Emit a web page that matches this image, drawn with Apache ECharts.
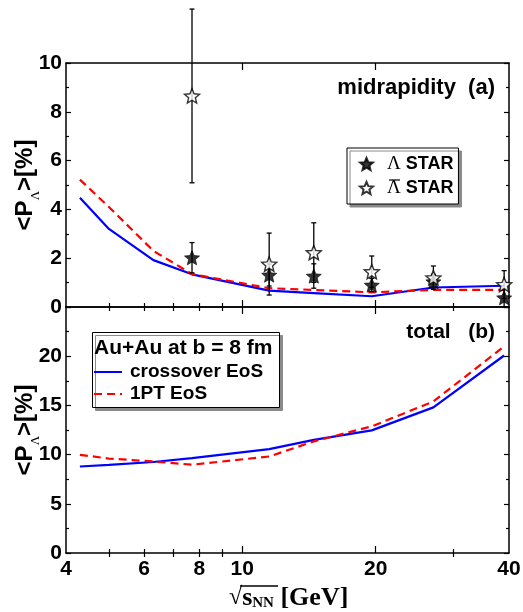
<!DOCTYPE html>
<html>
<head>
<meta charset="utf-8">
<script src="https://cdn.jsdelivr.net/npm/echarts@6/dist/echarts.min.js"></script>
<style>
  html, body { margin: 0; padding: 0; background: #fff; }
  #chart { width: 523px; height: 612px; }
</style>
</head>
<body>
<div id="chart"></div>
<script>
// Collision energies (GeV) of the hydro calculations
const modelEnergies = [4.3, 5, 6.3, 7.7, 11.5, 14.5, 19.6, 27, 39];
// Mid-rapidity polarization (%)
const midCrossover = [4.48, 3.2, 1.92, 1.34, 0.67, 0.57, 0.44, 0.80, 0.87];
const mid1PT = [5.22, 4.1, 2.3, 1.35, 0.77, 0.70, 0.60, 0.70, 0.70];
// Total polarization (%)
const totalCrossover = [8.79, 8.95, 9.25, 9.65, 10.56, 11.5, 12.46, 14.8, 20.07];
const total1PT = [9.98, 9.6, 9.3, 8.97, 9.81, 11.34, 12.87, 15.4, 21.0];

// STAR measurements
const starEnergies = [7.7, 11.5, 14.5, 19.6, 27, 39];
const lambdaP = [2.02, 1.31, 1.27, 0.90, 1.04, 0.38];
const lambdaErr = [0.62, 0.45, 0.50, 0.27, 0.30, 0.38];
const antiLambdaP = [8.65, 1.76, 2.23, 1.45, 1.20, 0.92];
const antiLambdaErr = [3.56, 1.27, 1.22, 0.64, 0.48, 0.57];

// Axis ticks
const xTickLabels = [4, 6, 8, 10, 20, 40];
const xMajorTicks = [10, 20];
const xMinorTicks = [5, 6, 7, 8, 9, 30];

const SANS = '"Liberation Sans", Arial, "DejaVu Sans", sans-serif';
const SERIF = '"Liberation Serif", "Times New Roman", "DejaVu Serif", serif';

// five-pointed star glyph used for the data markers
function starSymbol(inner) {
  let d = '';
  for (let i = 0; i < 10; i++) {
    const a = (-90 + i * 36) * Math.PI / 180;
    const r = i % 2 ? inner : 1;
    d += (i ? 'L' : 'M') + (r * Math.cos(a)).toFixed(4) + ' ' + (r * Math.sin(a)).toFixed(4) + ' ';
  }
  return 'path://' + d + 'Z';
}
const STAR = starSymbol(0.45);

const frame = { show: true, onZero: false, lineStyle: { color: '#000', width: 1.5 } };

function xAxesFor(grid) {
  const base = { gridIndex: grid, type: 'log', logBase: 10, min: 4, max: 40,
    splitLine: { show: false }, minorTick: { show: false } };
  const out = [];
  ['bottom', 'top'].forEach(pos => {
    out.push(Object.assign({}, base, {
      position: pos,
      axisLine: frame,
      axisTick: { show: true, inside: true, length: 7, customValues: xMajorTicks,
                  lineStyle: { color: '#000', width: 1.2 } },
      axisLabel: (grid === 1 && pos === 'bottom') ? {
        show: true, customValues: xTickLabels, margin: 6,
        formatter: v => String(Math.round(v)),
        color: '#000', fontFamily: SANS, fontWeight: 'bold', fontSize: 21
      } : { show: false }
    }));
    out.push(Object.assign({}, base, {
      position: pos,
      axisLine: { show: false },
      axisTick: { show: true, inside: true, length: 4, customValues: xMinorTicks,
                  lineStyle: { color: '#000', width: 1.2 } },
      axisLabel: { show: false }
    }));
  });
  return out;
}

const yName = '{b|<P}{s|\u039B}{b|>[%]}';
const yNameStyle = {
  rich: {
    b: { fontFamily: SANS, fontWeight: 'bold', fontSize: 24, color: '#000', lineHeight: 34, verticalAlign: 'middle' },
    s: { fontFamily: SERIF, fontSize: 13, color: '#000', lineHeight: 12, verticalAlign: 'bottom' }
  }
};

function yAxesFor(grid, max, interval) {
  const common = { gridIndex: grid, type: 'value', min: 0, max: max, interval: interval,
    axisLine: frame, splitLine: { show: false },
    axisTick: { show: true, inside: true, length: 5, lineStyle: { color: '#000', width: 1.2 } },
    minorTick: { show: true, splitNumber: 2, length: 3, lineStyle: { color: '#000', width: 1.2 } } };
  return [
    Object.assign({}, common, {
      position: 'left',
      name: yName, nameLocation: 'middle', nameGap: 24, nameMoveOverlap: false,
      nameTextStyle: yNameStyle,
      axisLabel: { show: true, margin: 4, color: '#000', fontFamily: SANS, fontWeight: 'bold', fontSize: 21,
                   formatter: v => (v >= max ? (grid === 0 ? String(v) : '') : String(v)) }
    }),
    Object.assign({}, common, { position: 'right', axisLabel: { show: false } })
  ];
}

function pairs(xs, ys) { return xs.map((x, i) => [x, ys[i]]); }

function errorBars(values, errs) {
  return {
    type: 'custom', xAxisIndex: 0, yAxisIndex: 0, clip: false, z: 3, silent: true,
    data: starEnergies.map((e, i) => [e, values[i] - errs[i], values[i] + errs[i]]),
    renderItem(params, api) {
      const lo = api.coord([api.value(0), api.value(1)]);
      const hi = api.coord([api.value(0), api.value(2)]);
      const w = 2.5, st = { stroke: '#000', lineWidth: 1.3 };
      return { type: 'group', children: [
        { type: 'line', shape: { x1: lo[0], y1: lo[1], x2: hi[0], y2: hi[1] }, style: st },
        { type: 'line', shape: { x1: lo[0] - w, y1: lo[1], x2: lo[0] + w, y2: lo[1] }, style: st },
        { type: 'line', shape: { x1: hi[0] - w, y1: hi[1], x2: hi[0] + w, y2: hi[1] }, style: st }
      ] };
    }
  };
}

const blueStyle = { color: '#0000ff', width: 2.2, type: 'solid' };
const redStyle = { color: '#ff0000', width: 2.2, type: [8, 5] };

function modelLine(name, xi, yi, ys, style) {
  return { name: name, type: 'line', xAxisIndex: xi, yAxisIndex: yi, data: pairs(modelEnergies, ys),
    symbol: 'circle', showSymbol: false, lineStyle: style, itemStyle: { color: style.color },
    z: 2, silent: true };
}

const chart = echarts.init(document.getElementById('chart'), null, { renderer: 'canvas' });

chart.setOption({
  animation: false,
  backgroundColor: '#fff',
  grid: [
    { left: 66, right: 14, top: 63, height: 244, containLabel: false, outerBoundsMode: 'none' },
    { left: 66, right: 14, top: 307, height: 246, containLabel: false, outerBoundsMode: 'none' }
  ],
  xAxis: xAxesFor(0).concat(xAxesFor(1)),
  yAxis: yAxesFor(0, 10, 2).concat(yAxesFor(1, 25, 5)),
  legend: [
    {
      data: ['\u039B STAR', '\u039B\u0304 STAR'],
      orient: 'vertical', left: 347, top: 148, z: 10,
      padding: [6, 5, 6, 12], itemGap: 4, itemWidth: 13, itemHeight: 13,
      backgroundColor: '#fff', borderColor: '#000', borderWidth: 1, borderRadius: 0,
      shadowColor: '#8a8a8a', shadowOffsetX: 3, shadowOffsetY: 3, shadowBlur: 0,
      selectedMode: false,
      formatter: name => '{l|\u039B}{b| STAR}',
      textStyle: {
        padding: [0, 0, 0, 9], lineHeight: 20,
        rich: {
          l: { fontFamily: SERIF, fontSize: 19, color: '#000', lineHeight: 20 },
          b: { fontFamily: SANS, fontWeight: 'bold', fontSize: 18, color: '#000', lineHeight: 20 }
        }
      }
    },
    {
      data: ['crossover EoS', '1PT EoS'],
      orient: 'vertical', left: 92, top: 362, z: 10,
      padding: [0, 0, 0, 1], itemGap: 2, itemWidth: 28, itemHeight: 14,
      itemStyle: { opacity: 0 },
      selectedMode: false,
      textStyle: { fontFamily: SANS, fontWeight: 'bold', fontSize: 19, color: '#000',
                   lineHeight: 20, padding: [0, 0, 0, 3] }
    }
  ],
  graphic: [
    { type: 'text', right: 28, top: 77, z: 10,
      style: { text: 'midrapidity  (a)', font: 'bold 22px ' + SANS, fill: '#000' } },
    { type: 'text', right: 28, top: 322, z: 10,
      style: { text: 'total   (b)', font: 'bold 21px ' + SANS, fill: '#000' } },
    // bar over the anti-lambda symbol in the STAR legend
    { type: 'line', z: 12,
      shape: { x1: 389, y1: 180, x2: 400, y2: 180 },
      style: { stroke: '#000', lineWidth: 1.2 } },
    { type: 'rect', left: 92, top: 332, z: 1,
      shape: { width: 187, height: 75 },
      style: { fill: '#fff', stroke: '#000', lineWidth: 1,
               shadowColor: '#8a8a8a', shadowOffsetX: 3, shadowOffsetY: 3, shadowBlur: 0 } },
    { type: 'text', left: 94, top: 338, z: 10,
      style: { text: 'Au+Au at b = 8 fm', font: 'bold 21px ' + SANS, fill: '#000' } },
    { type: 'text', z: 10,
      style: {
        x: 229, y: 598, align: 'left', verticalAlign: 'middle',
        text: '{r|\u221A}{s|s}{n|NN}{g| [GeV]}',
        rich: {
          r: { fontFamily: SERIF, fontSize: 24, fill: '#000' },
          s: { fontFamily: SERIF, fontWeight: 'bold', fontSize: 26, fill: '#000' },
          n: { fontFamily: SERIF, fontWeight: 'bold', fontSize: 15, fill: '#000', verticalAlign: 'bottom', lineHeight: 14 },
          g: { fontFamily: SERIF, fontWeight: 'bold', fontSize: 26, fill: '#000' }
        }
      } },
    { type: 'line', z: 10,
      shape: { x1: 240, y1: 586, x2: 278, y2: 586 },
      style: { stroke: '#000', lineWidth: 1.3 } }
  ],
  series: [
    modelLine('crossover EoS', 0, 0, midCrossover, blueStyle),
    modelLine('1PT EoS', 0, 0, mid1PT, redStyle),
    modelLine('crossover EoS', 4, 2, totalCrossover, blueStyle),
    modelLine('1PT EoS', 4, 2, total1PT, redStyle),
    errorBars(lambdaP, lambdaErr),
    errorBars(antiLambdaP, antiLambdaErr),
    { name: '\u039B STAR', type: 'scatter', xAxisIndex: 0, yAxisIndex: 0, z: 5, clip: false,
      data: pairs(starEnergies, lambdaP), symbol: STAR, symbolSize: 15, symbolKeepAspect: true,
      itemStyle: { color: '#000', borderColor: '#000', borderWidth: 0.8 } },
    { name: '\u039B\u0304 STAR', type: 'scatter', xAxisIndex: 0, yAxisIndex: 0, z: 5, clip: false,
      data: pairs(starEnergies, antiLambdaP), symbol: STAR, symbolSize: 15, symbolKeepAspect: true,
      itemStyle: { color: '#fff', borderColor: '#000', borderWidth: 1.4 } }
  ]
});
</script>
</body>
</html>
